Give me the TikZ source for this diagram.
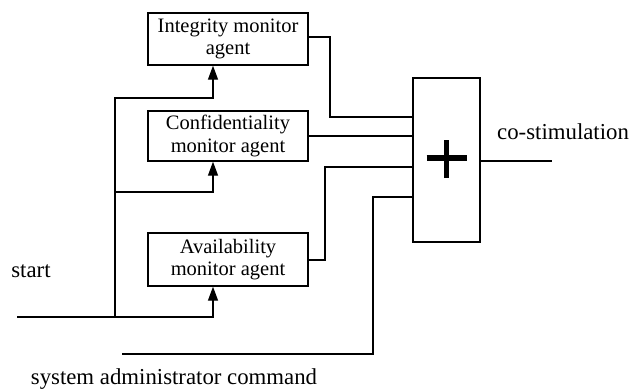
\documentclass[tikz,border=0pt]{standalone}
\usepackage{fontspec}
\setmainfont{Liberation Serif}
\usetikzlibrary{arrows.meta}
\begin{document}
\begin{tikzpicture}[x=1pt,y=-1pt,
  agentbox/.style={draw,line width=1.4pt,minimum width=160pt,minimum height=52pt,inner sep=0pt,align=center,font=\fontsize{20.5}{22.5}\selectfont},
  wire/.style={line width=1.4pt},
  arr/.style={wire,-{Triangle[width=10pt,length=14pt]}},
  lbl/.style={font=\fontsize{22.8}{25}\selectfont,inner sep=0pt}]
\useasboundingbox (0,0) rectangle (632,389);
\node[agentbox] (integ) at (228,39) {Integrity monitor\\agent};
\node[agentbox,minimum height=50pt] (conf) at (228,136) {Confidentiality\\monitor agent};
\node[agentbox,minimum height=53pt] (avail) at (228,259.5) {Availability\\monitor agent};
\node[draw,line width=1.4pt,minimum width=67pt,minimum height=164pt,inner sep=0pt] (sum) at (446.5,160) {};
\draw[line width=5.5pt] ([xshift=-20pt,yshift=2pt]sum.center) -- ([xshift=20pt,yshift=2pt]sum.center);
\draw[line width=5.5pt] ([yshift=-18pt]sum.center) -- ([yshift=20pt]sum.center);
\node[lbl] (start) at (31,271) {start};
\node[lbl] (sys) at (174,379) {system administrator command};
\node[lbl,anchor=west] (cos) at (497,132) {co-stimulation};
\coordinate (s) at (17,317);
\coordinate (j) at (115,317);
\coordinate (a) at (122,354);
\coordinate (out) at (552,161);
\draw[arr] (s) -| ([xshift=-15pt]avail.south);
\draw[arr] (j) |- (115,98) -| ([xshift=-15pt]integ.south);
\draw[arr] (115,192) -| ([xshift=-15pt]conf.south);
\draw[wire] (integ.east |- 0,37) -| (330,117) -- (sum.west |- 0,117);
\draw[wire] (conf.east) -- (sum.west |- conf.east);
\draw[wire] (avail.east |- 0,260) -| (325,167) -- (sum.west |- 0,167);
\draw[wire] (a) -| (373,197) -- (sum.west |- 0,197);
\draw[wire] (sum.east |- out) -- (out);
\end{tikzpicture}
\end{document}
